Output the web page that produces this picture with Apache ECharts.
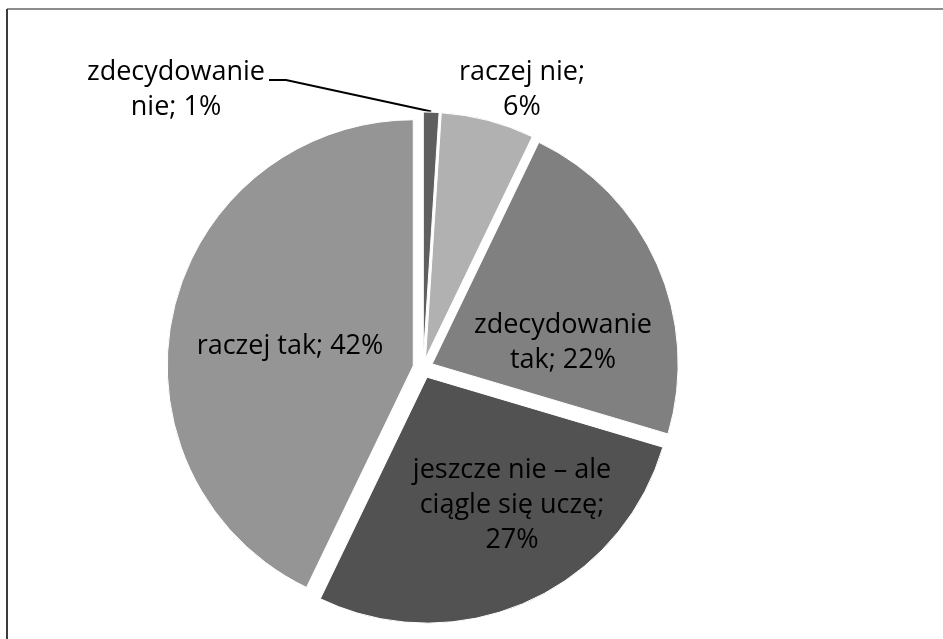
<!DOCTYPE html>
<html>

<head>
    <meta charset="utf-8">
    <script type="text/javascript" src="https://cdn.jsdelivr.net/npm/echarts@6/dist/echarts.min.js"></script>
    <title>ECharts pie</title>
    <style>
        html, body { margin: 0; padding: 0; background: #fff; }
    </style>
</head>

<body>
    <div id="container" style="width:943px;height:639px;"></div>
    <script type="text/javascript">
    // categories, clockwise from 12 o'clock
    var categories = ['zdecydowanie nie', 'raczej nie', 'zdecydowanie tak', 'jeszcze nie – ale ciągle się uczę', 'raczej tak'];
    // values (percent)
    var values = [1, 6, 22, 27, 42];
    // label text with the original line breaks
    var labelNames = ['zdecydowanie\nnie', 'raczej nie', 'zdecydowanie\ntak', 'jeszcze nie – ale\nciągle się uczę', 'raczej tak'];
    var labelSeps = ['; ', ';\n', '; ', ';\n', '; '];
    var colors = ['#5f5f5f', '#b1b1b1', '#808080', '#525252', '#959595'];

    var myChart = echarts.init(document.getElementById('container'));

    var explode = 10;
    var font = {
        color: '#000',
        fontFamily: 'Open Sans',
        fontSize: 27,
        lineHeight: 35
    };

    // offset each slice gets when it is pulled out (along its bisector)
    var total = values.reduce(function(a, b) { return a + b; }, 0);
    var offsets = [];
    var acc = 0;
    values.forEach(function(v) {
        var mid = (acc + v / 2) / total * Math.PI * 2;
        offsets.push([explode * Math.sin(mid), -explode * Math.cos(mid)]);
        acc += v;
    });

    var data = categories.map(function(name, i) {
        var outside = i < 2;
        return {
            name: name,
            value: values[i],
            selected: true,
            itemStyle: { color: colors[i] },
            label: Object.assign({
                show: true,
                position: outside ? 'outside' : 'inside',
                align: 'center',
                formatter: function() {
                    return labelNames[i] + labelSeps[i] + values[i] + '%';
                }
            }, font),
            labelLine: {
                show: i === 0,
                length: 15,
                length2: 17,
                lineStyle: { color: '#000', width: 2 }
            }
        };
    });

    // label centres as placed in the original
    var labelCenters = [[176, 90], [522, 90], [563, 343], [512, 505], [290, 346]];

    var option = {
        animation: false,
        graphic: [
            { type: 'line', shape: { x1: 7, y1: 9, x2: 943, y2: 9 }, style: { stroke: '#8c8c8c', lineWidth: 2 } },
            { type: 'line', shape: { x1: 7, y1: 9, x2: 7, y2: 639 }, style: { stroke: '#3c3c3c', lineWidth: 2 } }
        ],
        series: [{
            type: 'pie',
            center: [423, 368],
            radius: 246,
            startAngle: 90,
            clockwise: true,
            selectedMode: 'multiple',
            selectedOffset: explode,
            avoidLabelOverlap: false,
            silent: true,
            itemStyle: { borderColor: '#fff', borderWidth: 1 },
            select: { itemStyle: { borderColor: '#fff', borderWidth: 1 } },
            emphasis: { disabled: true },
            labelLayout: function(params) {
                var i = params.dataIndex;
                var c = labelCenters[i];
                var r = params.labelRect;
                var o = offsets[i];
                if (i < 2) {
                    // outside labels: centre the lines on the anchor
                    var res = {
                        align: 'center',
                        dx: c[0] - r.x - o[0],
                        dy: c[1] - (r.y + r.height / 2) - o[1]
                    };
                    if (i === 0) {
                        var s = params.rect;
                        var right = c[0] + r.width / 2 + 4;
                        var ly = c[1] - 10;
                        res.labelLinePoints = [
                            [s.x + s.width / 2, s.y],
                            [right + 17 - o[0], ly - o[1]],
                            [right - o[0], ly - o[1]]
                        ];
                    }
                    return res;
                }
                return {
                    dx: c[0] - (r.x + r.width / 2) - o[0],
                    dy: c[1] - (r.y + r.height / 2) - o[1]
                };
            },
            data: data
        }]
    };

    myChart.setOption(option);
    </script>
</body>

</html>
